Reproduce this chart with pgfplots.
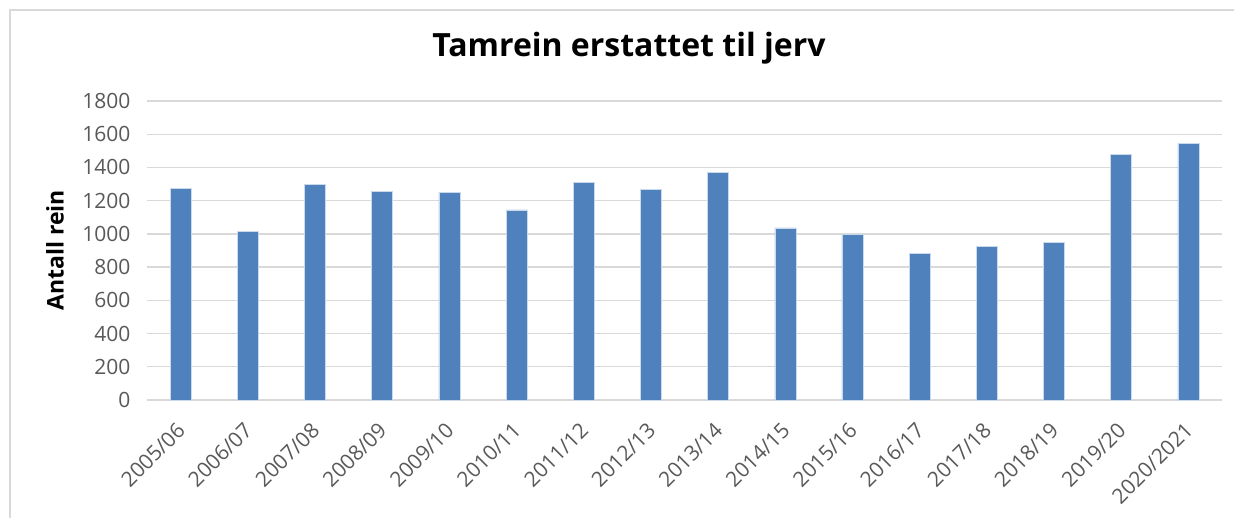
\documentclass[border=0pt]{standalone}
\usepackage{fontspec}
\setmainfont{Open Sans}
\usepackage{pgfplots}
\pgfplotsset{compat=1.18}
\definecolor{barblue}{HTML}{4F81BD}
\definecolor{gridgrey}{HTML}{D9D9D9}
\definecolor{ticktext}{HTML}{595959}
\begin{document}
\begin{tikzpicture}
\useasboundingbox (0pt,0pt) rectangle (1234pt,517pt);
\fill[white] (0pt,0pt) rectangle (1234pt,517pt);
\draw[gridgrey, line width=1.5pt] (10pt,-5pt) -- (10pt,507pt) -- (1240pt,507pt);
\begin{axis}[
  at={(147pt,117pt)}, anchor=south west,
  scale only axis, width=1075pt, height=299pt,
  xmin=-0.5, xmax=15.5, ymin=0, ymax=1800,
  ytick distance=200,
  xtick=data,
  xticklabels={2005/06,2006/07,2007/08,2008/09,2009/10,2010/11,2011/12,2012/13,2013/14,2014/15,2015/16,2016/17,2017/18,2018/19,2019/20,2020/2021},
  axis line style={draw=none},
  major tick length=0pt,
  ymajorgrids, grid style={gridgrey, line width=1.4pt},
  /pgf/number format/assume math mode=true,
  /pgf/number format/1000 sep={},
  tick label style={font=\fontsize{21}{25}\selectfont, text=ticktext},
  yticklabel style={xshift=-13pt},
  xticklabel style={rotate=45, anchor=north east, xshift=-15pt, yshift=-8pt},
  ylabel={\bfseries Antall rein},
  ylabel style={at={(axis description cs:-0.0856,0.5)}, anchor=center, font=\fontsize{23}{27}\selectfont},
]
\addplot[ybar, bar width=21pt, fill=barblue, draw=white!70!barblue, line width=0.5pt] coordinates {
(0,1274) (1,1015) (2,1296) (3,1256) (4,1250) (5,1144) (6,1311) (7,1270)
(8,1371) (9,1036) (10,998) (11,883) (12,923) (13,949) (14,1479) (15,1545)
};
\end{axis}
\node[font=\fontsize{32}{37}\selectfont\bfseries] at (629pt,469pt) {Tamrein erstattet til jerv};
\end{tikzpicture}
\end{document}
